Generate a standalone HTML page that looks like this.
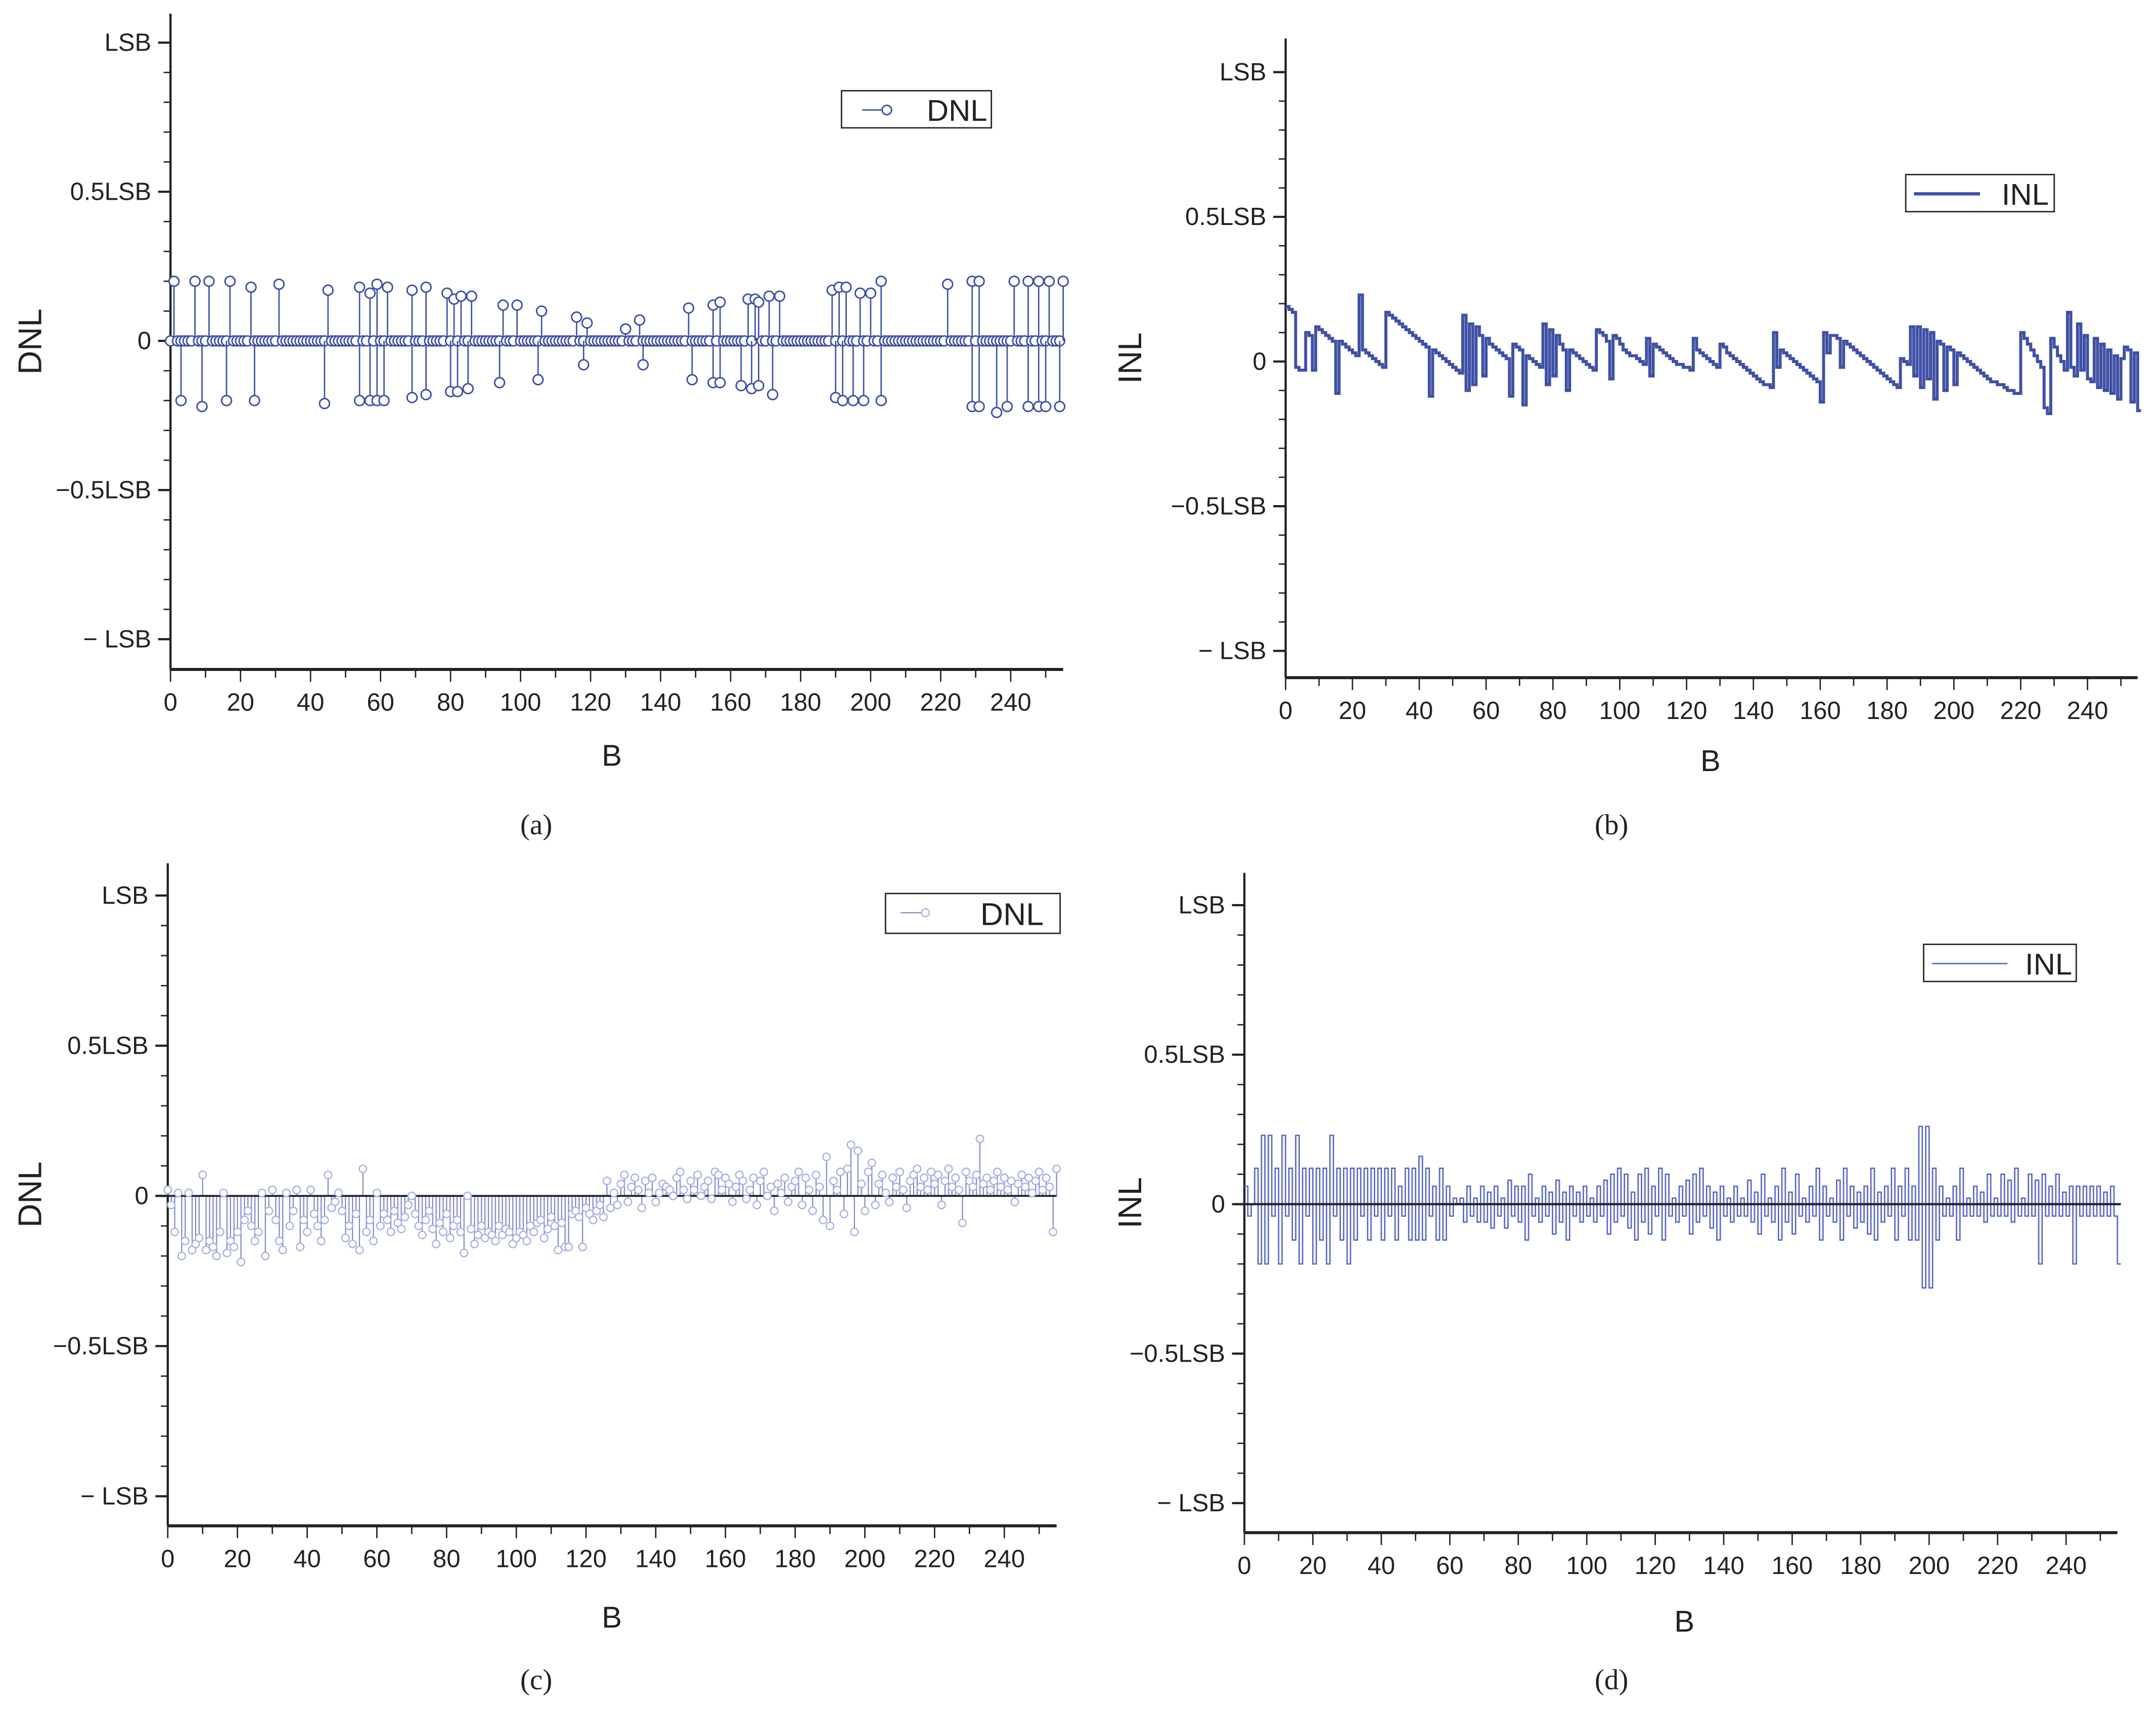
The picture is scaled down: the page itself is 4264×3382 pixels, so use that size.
<!DOCTYPE html>
<html><head><meta charset="utf-8"><style>
html,body{margin:0;padding:0;background:#fff}
svg{display:block}
text{font-family:"Liberation Sans",sans-serif;fill:#222}
</style></head><body>
<svg id="fig" width="4264" height="3382" viewBox="0 0 1568 1244" preserveAspectRatio="none" xmlns="http://www.w3.org/2000/svg"></svg>
<script>
// ---- Data ----
const xTicks=[0,20,40,60,80,100,120,140,160,180,200,220,240];
const yTickVals=[1,0.5,0,-0.5,-1];
const yTickLabels=["LSB","0.5LSB","0","\u22120.5LSB","\u2212 LSB"];
// (a) DNL: zero except listed codes
const dnlAPosIdx=[1,7,11,17,23,31,45,54,57,59,62,69,73,79,81,83,86,95,99,106,116,119,130,134,148,155,157,165,167,168,171,174,189,191,193,197,200,203,222,229,231,241,245,248,251,255];
const dnlAPosVal=[.2,.2,.2,.2,.18,.19,.17,.18,.16,.19,.18,.17,.18,.16,.14,.15,.15,.12,.12,.1,.08,.06,.04,.07,.11,.12,.13,.14,.14,.13,.15,.15,.17,.18,.18,.16,.16,.2,.19,.2,.2,.2,.2,.2,.2,.2];
const dnlANegIdx=[3,9,16,24,44,54,57,59,61,69,73,80,82,85,94,105,118,135,149,155,157,163,166,168,172,190,192,195,198,203,229,231,236,239,245,248,250,254];
const dnlANegVal=[-.2,-.22,-.2,-.2,-.21,-.2,-.2,-.2,-.2,-.19,-.18,-.17,-.17,-.16,-.14,-.13,-.08,-.08,-.13,-.14,-.14,-.15,-.16,-.15,-.18,-.19,-.2,-.2,-.2,-.2,-.22,-.22,-.24,-.22,-.22,-.22,-.22,-.22];
// (b) INL
const inlB=[.19,.18,.17,-.02,-.03,-.03,.10,.09,-.03,.12,.11,.10,.09,.08,.07,-.11,.07,.06,.05,.04,.03,.02,.23,.04,.03,.02,.01,.00,-.01,-.02,
.17,.16,.15,.14,.13,.12,.11,.10,.09,.08,.07,.06,.05,-.12,.04,.03,.02,.01,.00,-.01,-.02,-.03,-.04,.16,-.10,.13,-.08,.12,.09,-.05,.08,.06,
.05,.04,.03,.02,.01,-.12,.06,.05,.04,-.15,.02,.01,.00,-.01,-.02,.13,-.08,.11,-.05,.09,.06,.04,-.10,.04,.03,.02,.01,.00,-.01,-.02,-.03,
.11,.10,.09,.07,-.06,.09,.08,.06,.04,.03,.02,.02,.01,.00,-.01,.08,-.05,.06,.05,.04,.03,.02,.01,.00,-.01,-.01,-.02,-.02,-.03,.08,.04,
.03,.02,.01,.00,-.01,-.02,.06,.05,.03,.02,.01,.00,-.01,-.02,-.03,-.04,-.05,-.06,-.07,-.08,-.08,-.09,.10,-.02,.04,.03,.02,.01,.00,-.01,-.02,-.03,
-.04,-.05,-.06,-.07,-.14,.10,.03,.09,.09,.08,-.02,.07,.06,.05,.04,.03,.02,.01,.00,-.01,-.02,-.03,-.04,-.05,-.06,-.07,-.08,-.09,.01,.00,-.01,.12,
-.05,.12,-.09,.11,-.06,.10,-.13,.07,.06,-.10,.05,.04,-.08,.03,.02,.01,.00,-.01,-.02,-.03,-.04,-.05,-.06,-.07,-.07,-.08,-.08,-.09,-.10,-.10,-.11,-.11,
.10,.08,.06,.04,.02,.00,-.02,-.16,-.18,.08,.05,.02,.00,-.03,.17,-.02,-.05,.13,-.03,.09,-.06,-.07,.08,-.09,.06,-.10,.04,-.11,.02,-.13,.01,.05,.04,-.14,.03,-.17];
// (c) DNL
const dnlC=[.02,-.03,-.12,.01,-.20,-.15,.01,-.18,-.16,-.14,.07,-.18,-.15,-.17,-.20,-.12,.01,-.19,-.15,-.17,
-.12,-.22,-.08,-.05,-.10,-.15,-.12,.01,-.20,-.05,.02,-.08,-.15,-.18,.01,-.10,-.05,.02,-.17,-.08,
-.12,.02,-.06,-.10,-.15,-.08,.07,-.04,-.02,.01,-.05,-.14,-.10,-.16,-.06,-.18,.09,-.12,-.08,-.15,
.01,-.10,-.06,-.08,-.12,-.05,-.09,-.11,-.07,-.03,.00,-.06,-.10,-.13,-.08,-.05,-.11,-.16,-.09,-.12,
-.06,-.14,-.10,-.08,-.12,-.19,.00,-.11,-.16,-.13,-.10,-.14,-.12,-.13,-.15,-.10,-.13,-.11,-.12,-.16,
-.14,-.12,-.13,-.15,-.10,-.12,-.09,-.08,-.14,-.11,-.07,-.10,-.18,-.09,-.17,-.17,-.06,-.05,-.07,-.17,
-.04,-.06,-.08,-.05,-.03,-.07,.05,-.04,.01,-.03,.04,.07,-.02,.03,.06,.02,-.04,.05,.01,.06,
-.02,.01,.04,.03,.02,.00,.06,.08,.02,-.01,.05,.02,.07,.00,.03,.05,-.01,.08,.07,.02,
.06,.04,-.02,.03,.07,.05,-.01,.02,.06,-.03,.05,.08,.00,.03,-.05,.04,.01,.06,-.02,.03,
.05,.08,-.03,.06,.02,-.05,.07,.03,-.08,.13,-.10,.05,.02,.08,-.06,.09,.17,-.12,.15,.04,
-.05,.08,.11,-.03,.04,.07,.01,-.02,.06,.03,.08,.02,-.04,.05,.07,.09,.03,.06,.02,.08,
.04,.07,-.03,.05,.09,.03,.06,.02,-.09,.08,.05,.03,.07,.19,.04,.06,.02,.05,.08,.03,
.06,.02,.05,-.02,.04,.07,.03,.06,.01,.05,.08,.02,.06,.03,-.12,.09];
// (d) INL
const inlD=[.06,-.04,0,.12,-.2,.23,-.2,.23,-.04,.12,-.2,.23,-.04,.12,-.12,.23,-.2,.12,-.04,.12,
-.2,.12,-.12,.12,-.2,.23,-.04,.12,-.12,.12,-.2,.12,-.12,.12,-.04,.12,-.12,.12,-.04,.12,
-.12,.12,-.04,.12,-.12,.06,-.04,.12,-.12,.12,-.12,.16,-.12,.12,-.04,.06,-.12,.12,-.12,.06,
-.04,.02,0,.02,-.06,.06,-.04,.02,-.06,.06,-.06,.04,-.08,.06,-.04,.02,-.08,.08,-.04,.06,
-.06,.06,-.12,.1,-.04,.02,-.06,.06,-.04,.04,-.1,.08,-.06,.04,-.12,.06,-.04,.04,-.06,.06,
-.04,.02,-.06,.06,-.04,.08,-.1,.1,-.06,.12,-.04,.1,-.08,.04,-.12,.1,-.06,.12,-.1,.06,
-.04,.12,-.12,.1,-.04,.02,-.06,.06,-.04,.08,-.1,.1,-.06,.12,-.04,.06,-.08,.04,-.12,.06,
-.04,.02,-.06,.06,-.04,.02,-.04,.08,-.06,.04,-.1,.1,-.04,.02,-.06,.06,-.12,.12,-.06,.04,
-.1,.1,-.04,.02,-.06,.06,-.04,.12,-.12,.06,-.04,.02,-.06,.08,-.12,.12,-.04,.06,-.08,.04,
-.06,.06,-.1,.12,-.12,.04,-.06,.06,-.04,.12,-.12,.06,-.04,.12,-.12,.06,-.12,.26,-.28,.26,
-.28,.12,-.12,.06,-.04,.02,-.04,.06,-.12,.12,-.04,.02,-.04,.06,-.04,.04,-.06,.1,-.04,.02,
-.04,.1,-.04,.08,-.06,.12,-.04,.02,-.04,.1,-.04,.08,-.2,.1,-.04,.06,-.04,.1,-.04,.04,
-.04,.06,-.2,.06,-.04,.06,-.04,.06,-.04,.06,-.04,.04,-.04,.06,-.04,-.2];

// ---- Drawing ----
const NS="http://www.w3.org/2000/svg";
const svg=document.getElementById('fig');
function mk(tag,attrs,parent){const e=document.createElementNS(NS,tag);for(const k in attrs)e.setAttribute(k,attrs[k]);(parent||svg).appendChild(e);return e;}
const BLUE="#3f51a5";
const panels=[
 {id:'a',x0:124,xpu:2.546,y0:248,ypu:217,axisY:487,top:10,yTitle:'DNL',yTitleX:30,bx:445,by:557,cap:[390,607]},
 {id:'b',x0:935,xpu:2.43,y0:263,ypu:210.5,axisY:493,top:28,yTitle:'INL',yTitleX:830,bx:1244,by:561,cap:[1172,607]},
 {id:'c',x0:122,xpu:2.535,y0:870,ypu:218.5,axisY:1110,top:628,yTitle:'DNL',yTitleX:30,bx:445,by:1184,cap:[390,1229]},
 {id:'d',x0:905,xpu:2.49,y0:876,ypu:217.5,axisY:1115,top:635,yTitle:'INL',yTitleX:830,bx:1225,by:1187,cap:[1172,1229]}
];
panels.forEach(p=>{
 p.X=v=>p.x0+v*p.xpu; p.Y=v=>p.y0-v*p.ypu;
 const g=mk('g',{});
 
 
 const xEnd=p.X(255);
 const ax=mk('line',{x1:p.x0,y1:p.top,x2:p.x0,y2:p.axisY,stroke:'#222','stroke-width':1.6},g);
 
 
 const bx=mk('line',{x1:p.x0,y1:p.axisY,x2:xEnd,y2:p.axisY,stroke:'#222','stroke-width':2.2},g);
 
 
 for(let v=0;v<=250;v+=10){const maj=v%20===0;mk('line',{x1:p.X(v),y1:p.axisY,x2:p.X(v),y2:p.axisY+(maj?9:6),stroke:'#222','stroke-width':1},g);}
 xTicks.forEach(v=>{const t=mk('text',{x:p.X(v),y:p.axisY+30,'text-anchor':'middle','font-size':18},g);t.textContent=v;
  });
 for(let v=-1;v<=1.001;v+=0.1){const maj=Math.abs(Math.round(v*10)%5)===0;mk('line',{x1:p.x0,y1:p.Y(v),x2:p.x0-(maj?9:5),y2:p.Y(v),stroke:'#222','stroke-width':maj?1.6:1},g);}
 yTickVals.forEach((v,i)=>{const t=mk('text',{x:p.x0-14,y:p.Y(v)+6,'text-anchor':'end','font-size':18},g);t.textContent=yTickLabels[i];
  });
 const yt=mk('text',{x:p.yTitleX,y:(p.top+p.axisY)/2,'text-anchor':'middle','font-size':24,transform:`rotate(-90 ${p.yTitleX} ${(p.top+p.axisY)/2})`},g);
 yt.textContent=p.yTitle;
 const xt=mk('text',{x:p.bx,y:p.by,'text-anchor':'middle','font-size':22},g);
 xt.textContent='B';
 const cp=mk('text',{x:p.cap[0],y:p.cap[1],'text-anchor':'middle','font-size':21,style:'font-family:"Liberation Serif",serif'},g);
 cp.textContent='('+p.id+')';
 p.g=g;
});
// Panel a
(function(){const p=panels[0];const g=p.g;
 const vals=new Array(256).fill(0);
 dnlAPosIdx.forEach((k,i)=>vals[k]=dnlAPosVal[i]);
 const negs={};dnlANegIdx.forEach((k,i)=>negs[k]=dnlANegVal[i]);
 mk('line',{x1:p.X(0),y1:p.Y(0),x2:p.X(255),y2:p.Y(0),stroke:'#222','stroke-width':1.4},g);
 for(let i=0;i<256;i++){
  const list=[vals[i]];if(negs[i]!==undefined)list.push(negs[i]);
  list.forEach(v=>{
   if(v!==0)mk('line',{x1:p.X(i),y1:p.Y(0),x2:p.X(i),y2:p.Y(v),stroke:BLUE,'stroke-width':1},g);
   const c=mk('circle',{cx:p.X(i),cy:p.Y(v),r:3.6,fill:'#fff',stroke:BLUE,'stroke-width':1.1},g);
   
  });
 }
 const lg=mk('g',{},g);
 mk('rect',{x:612,y:66,width:109,height:27,fill:'#fff',stroke:'#222','stroke-width':1},lg);
 mk('line',{x1:627,y1:80,x2:642,y2:80,stroke:BLUE,'stroke-width':1},lg);
 mk('circle',{cx:645,cy:80,r:3.4,fill:'#fff',stroke:BLUE,'stroke-width':1.1},lg);
 const t=mk('text',{x:718,y:88,'text-anchor':'end','font-size':22},lg);t.textContent='DNL';
})();
// Panel b
(function(){const p=panels[1];const g=p.g;
 let d='';inlB.forEach((v,i)=>{d+=(i===0?'M':'L')+p.X(i)+' '+p.Y(v)+'L'+p.X(i+1)+' '+p.Y(v);});
 const path=mk('path',{d:d,fill:'none',stroke:BLUE,'stroke-width':2.2},g);
 
 const lg=mk('g',{},g);
 mk('rect',{x:1386,y:127,width:108,height:27,fill:'#fff',stroke:'#222','stroke-width':1},lg);
 mk('line',{x1:1392,y1:141,x2:1440,y2:141,stroke:BLUE,'stroke-width':2.4},lg);
 const t=mk('text',{x:1490,y:149,'text-anchor':'end','font-size':22},lg);t.textContent='INL';
})();
// Panel c
(function(){const p=panels[2];const g=p.g;const LB="#7b86cc";
 dnlC.forEach((v,i)=>{
  mk('line',{x1:p.X(i),y1:p.Y(0),x2:p.X(i),y2:p.Y(v),stroke:LB,'stroke-width':0.8},g);
 });
 mk('line',{x1:p.X(0),y1:p.Y(0),x2:p.X(255),y2:p.Y(0),stroke:'#222','stroke-width':1.4},g);
 dnlC.forEach((v,i)=>{
  const c=mk('circle',{cx:p.X(i),cy:p.Y(v),r:2.7,fill:'#fff',stroke:"#a9b0e0",'stroke-width':0.9},g);
  
 });
 const lg=mk('g',{},g);
 mk('rect',{x:644,y:650,width:127,height:29,fill:'#fff',stroke:'#222','stroke-width':1},lg);
 mk('line',{x1:655,y1:664,x2:670,y2:664,stroke:LB,'stroke-width':0.8},lg);
 mk('circle',{cx:673,cy:664,r:2.8,fill:'#fff',stroke:"#a9b0e0",'stroke-width':0.9},lg);
 const t=mk('text',{x:759,y:673,'text-anchor':'end','font-size':23},lg);t.textContent='DNL';
})();
// Panel d
(function(){const p=panels[3];const g=p.g;const LB="#5b69c0";
 let d='';inlD.forEach((v,i)=>{d+=(i===0?'M':'L')+p.X(i)+' '+p.Y(v)+'L'+p.X(i+1)+' '+p.Y(v);});
 const path=mk('path',{d:d,fill:'none',stroke:LB,'stroke-width':1},g);
 
 mk('line',{x1:p.X(0),y1:p.Y(0),x2:p.X(256),y2:p.Y(0),stroke:'#222','stroke-width':1.6},g);
 const lg=mk('g',{},g);
 mk('rect',{x:1399,y:687,width:111,height:27,fill:'#fff',stroke:'#222','stroke-width':1},lg);
 mk('line',{x1:1405,y1:701,x2:1460,y2:701,stroke:LB,'stroke-width':1},lg);
 const t=mk('text',{x:1507,y:709,'text-anchor':'end','font-size':22},lg);t.textContent='INL';
})();
</script>
</body></html>
